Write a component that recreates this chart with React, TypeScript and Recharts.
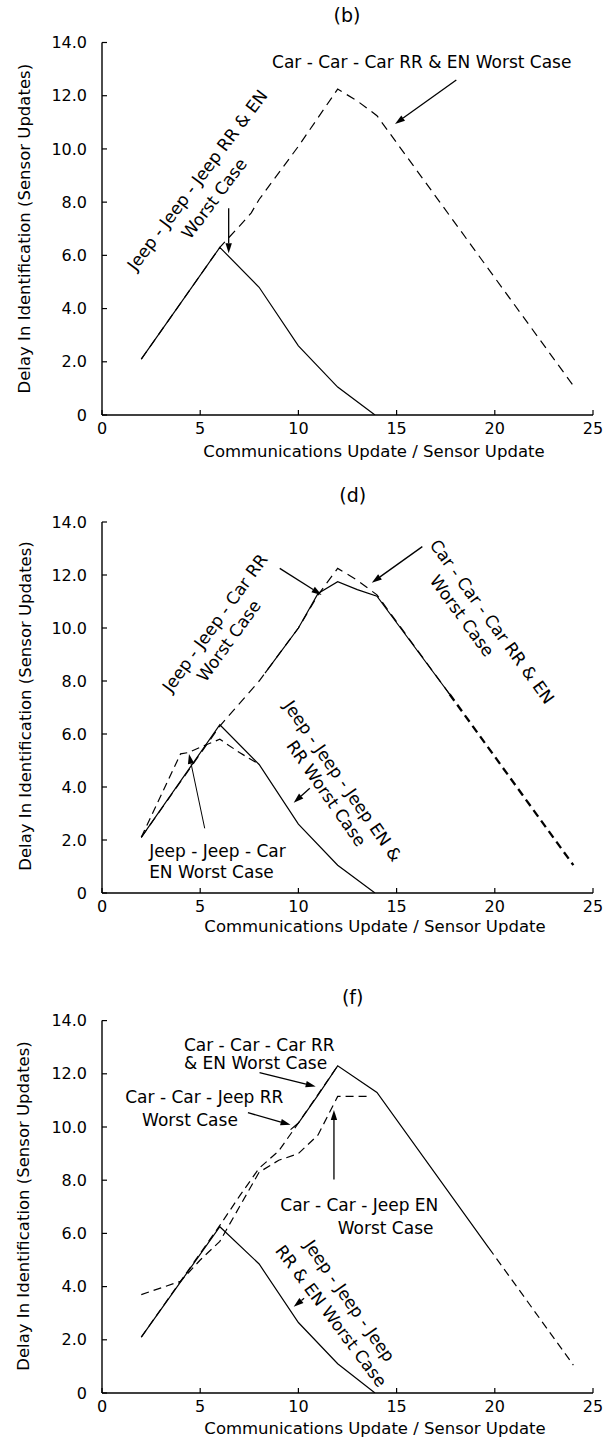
import React from 'react';
import { LineChart, Line, XAxis, YAxis, ReferenceLine, ReferenceDot } from 'recharts';

// ---------- shared axes ----------
const xTicks = [0, 5, 10, 15, 20, 25];
const yTicks = [0, 2, 4, 6, 8, 10, 12, 14];
const xLabel = 'Communications Update / Sensor Update';
const yLabel = 'Delay In Identification (Sensor Updates)';

// ---------- panel (b) ----------
const bJeepJeepJeep = [[2, 2.1], [6, 6.3], [8, 4.8], [10, 2.6], [12, 1.05], [13.9, 0]];
const bCarCarCar = [[2, 2.1], [4, 4.2], [6, 6.3], [7, 7.1], [7.6, 7.6], [8, 8.1], [10, 10.1], [12, 12.25], [13, 11.8], [14, 11.25], [24, 1.1]];

// ---------- panel (d) ----------
const dJeepJeepJeep = [[2, 2.1], [6, 6.35], [8, 4.85], [10, 2.6], [12, 1.05], [13.9, 0]];
const dJeepJeepCarEN = [[2, 2.1], [4, 5.25], [4.4, 5.3], [5, 5.5], [6, 5.8], [7, 5.3], [7.9, 4.9]];
const dCarCarCar = [[2, 2.1], [4, 4.2], [6, 6.3], [8, 8.0], [10, 10.0], [11, 11.25], [12, 12.25], [13, 11.8], [14, 11.25], [17.7, 7.5]];
const dCarCarCarTail = [[17.7, 7.5], [24, 1.05]];
const dJeepJeepCarRR = [[8.3, 8.3], [10, 10.0], [11, 11.3], [12, 11.75], [13, 11.45], [14, 11.2], [17.7, 7.5]];

// ---------- panel (f) ----------
const fJeepJeepJeep = [[2, 2.1], [6, 6.25], [8, 4.85], [10, 2.65], [12, 1.1], [13.9, 0]];
const fCarCarCar = [[9.6, 9.9], [10, 10.15], [11, 11.2], [12, 12.3], [14, 11.3], [19.7, 5.45]];
const fCarCarCarTail = [[19.7, 5.45], [24, 1.05]];
const fCarCarJeepRR = [[2, 2.1], [4, 4.2], [6, 6.3], [7, 7.4], [8, 8.45], [9, 9.1], [10, 10.15], [12, 12.3]];
const fCarCarJeepEN = [[2, 3.7], [4, 4.2], [5, 5.0], [6, 5.7], [7, 7.0], [8, 8.3], [9, 8.75], [10, 9.0], [11, 9.7], [12, 11.15], [13.5, 11.15]];

const toPts = (arr: number[][]) => arr.map(([x, y]) => ({ x, y }));

const FONT = 'DejaVu Sans';

type Series = { data: number[][]; dash?: string; width?: number };
type Ann = { text: string; x: number; y: number; rot?: number; anchor?: 'start' | 'middle' | 'end' };
type Arrow = { from: [number, number]; to: [number, number]; w?: number };

const textShape = (t: Ann) => (p: any) => {
  const cx = p.cx, cy = p.cy;
  if (typeof cx !== 'number' || typeof cy !== 'number') return <g />;
  return (
    <text
      x={cx}
      y={cy}
      textAnchor={t.anchor || 'middle'}
      dominantBaseline="central"
      transform={t.rot ? `rotate(${t.rot} ${cx} ${cy})` : undefined}
      fontSize={17}
      fontFamily={FONT}
      fill="#000"
    >
      {t.text}
    </text>
  );
};

const arrowShape = (w: number) => (p: any) => {
  const { x1, y1, x2, y2 } = p;
  if ([x1, y1, x2, y2].some((v) => typeof v !== 'number' || isNaN(v))) return <g />;
  const ang = Math.atan2(y2 - y1, x2 - x1);
  const L = 10, W = 3.2;
  const bx = x2 - L * Math.cos(ang), by = y2 - L * Math.sin(ang);
  const px = -Math.sin(ang) * W, py = Math.cos(ang) * W;
  return (
    <g>
      <line x1={x1} y1={y1} x2={bx} y2={by} stroke="#000" strokeWidth={w} />
      <polygon points={`${x2},${y2} ${bx + px},${by + py} ${bx - px},${by - py}`} fill="#000" />
    </g>
  );
};

// ---------- annotations (data coordinates) ----------
const bAnn: Ann[] = [
  { text: 'Car - Car - Car RR & EN Worst Case', x: 16.28, y: 13.28 },
  { text: 'Jeep - Jeep - Jeep RR & EN', x: 4.85, y: 8.83, rot: -53 },
  { text: 'Worst Case', x: 5.71, y: 8.14, rot: -53 },
];
const bArrows: Arrow[] = [
  { from: [18.04, 12.59], to: [14.92, 10.94] },
  { from: [6.45, 7.77], to: [6.45, 6.08] },
];
const dAnn: Ann[] = [
  { text: 'Jeep - Jeep - Car RR', x: 5.75, y: 10.19, rot: -54 },
  { text: 'Worst Case', x: 6.45, y: 9.52, rot: -54 },
  { text: 'Car - Car - Car RR & EN', x: 19.86, y: 10.24, rot: 54 },
  { text: 'Worst Case', x: 18.33, y: 10.46, rot: 54 },
  { text: 'Jeep - Jeep - Jeep EN &', x: 12.26, y: 4.23, rot: 55 },
  { text: 'RR Worst Case', x: 11.43, y: 3.76, rot: 55 },
  { text: 'Jeep - Jeep - Car', x: 2.4, y: 1.6, anchor: 'start' },
  { text: 'EN Worst Case', x: 2.4, y: 0.8, anchor: 'start' },
];
const dArrows: Arrow[] = [
  { from: [9.05, 12.25], to: [11.18, 11.25] },
  { from: [16.31, 13.07], to: [13.74, 11.71] },
  { from: [10.58, 3.95], to: [9.76, 3.41] },
  { from: [5.23, 2.44], to: [4.43, 5.25], w: 1 },
];
const fAnn: Ann[] = [
  { text: 'Car - Car - Car RR', x: 4.17, y: 13.08, anchor: 'start' },
  { text: '& EN Worst Case', x: 4.17, y: 12.39, anchor: 'start' },
  { text: 'Car - Car - Jeep RR', x: 5.21, y: 11.14 },
  { text: 'Worst Case', x: 4.48, y: 10.26 },
  { text: 'Car - Car - Jeep EN', x: 13.1, y: 7.07 },
  { text: 'Worst Case', x: 14.44, y: 6.19 },
  { text: 'Jeep - Jeep - Jeep', x: 12.61, y: 3.47, rot: 55 },
  { text: 'RR & EN Worst Case', x: 11.67, y: 2.9, rot: 53 },
];
const fArrows: Arrow[] = [
  { from: [8.02, 12.04], to: [10.88, 11.52] },
  { from: [7.43, 10.54], to: [9.6, 10.08] },
  { from: [11.81, 8.03], to: [11.81, 10.64] },
  { from: [10.29, 3.56], to: [9.76, 3.24] },
];

type PanelCfg = {
  top: number; h: number; mt: number; mb: number;
  series: Series[]; ann: Ann[]; arrows: Arrow[];
};

const panels: PanelCfg[] = [
  {
    top: 0, h: 480, mt: 42.5, mb: 35,
    series: [
      { data: bJeepJeepJeep },
      { data: bCarCarCar, dash: '9 6' },
    ],
    ann: bAnn, arrows: bArrows,
  },
  {
    top: 480, h: 480, mt: 42, mb: 37,
    series: [
      { data: dJeepJeepJeep },
      { data: dJeepJeepCarEN, dash: '8 5' },
      { data: dCarCarCar, dash: '9 6' },
      { data: dCarCarCarTail, dash: '8 5', width: 2.3 },
      { data: dJeepJeepCarRR },
    ],
    ann: dAnn, arrows: dArrows,
  },
  {
    top: 960, h: 479, mt: 60.6, mb: 16,
    series: [
      { data: fJeepJeepJeep },
      { data: fCarCarCar },
      { data: fCarCarCarTail, dash: '8 5' },
      { data: fCarCarJeepRR, dash: '8 5' },
      { data: fCarCarJeepEN, dash: '8 5' },
    ],
    ann: fAnn, arrows: fArrows,
  },
];

const tickStyle = { fontSize: 16, fill: '#000', fontFamily: FONT };

function Panel({ cfg }: { cfg: PanelCfg }) {
  return (
    <div style={{ position: 'absolute', left: 0, top: cfg.top, width: 609, height: cfg.h }}>
      <LineChart width={609} height={cfg.h} margin={{ top: cfg.mt, right: 16, bottom: cfg.mb, left: 0 }}>
        <XAxis
          type="number"
          dataKey="x"
          domain={[0, 25]}
          ticks={xTicks}
          allowDataOverflow
          height={30}
          tickSize={-5}
          tickMargin={13}
          tick={tickStyle}
          axisLine={{ stroke: '#000', strokeWidth: 1.4 }}
          tickLine={{ stroke: '#000', strokeWidth: 1.2 }}
        />
        <XAxis
          xAxisId="top"
          orientation="top"
          type="number"
          domain={[0, 25]}
          ticks={xTicks}
          height={0}
          tick={false}
          tickLine={false}
          axisLine={{ stroke: '#000', strokeWidth: 1.4 }}
        />
        <YAxis
          type="number"
          domain={[0, 14]}
          ticks={yTicks}
          allowDataOverflow
          width={102}
          tickSize={-5}
          tickMargin={20}
          tick={tickStyle}
          tickFormatter={(v: number) => (v === 0 ? '0' : v.toFixed(1))}
          axisLine={{ stroke: '#000', strokeWidth: 1.4 }}
          tickLine={{ stroke: '#000', strokeWidth: 1.2 }}
        />
        <YAxis
          yAxisId="right"
          orientation="right"
          type="number"
          domain={[0, 14]}
          ticks={yTicks}
          width={0}
          tickSize={-5}
          tick={false}
          tickLine={{ stroke: '#000', strokeWidth: 1.2 }}
          axisLine={{ stroke: '#000', strokeWidth: 1.4 }}
        />
        {cfg.series.map((s, i) => (
          <Line
            key={'s' + i}
            data={toPts(s.data)}
            dataKey="y"
            type="linear"
            stroke="#000"
            strokeWidth={s.width || 1.2}
            strokeDasharray={s.dash}
            dot={false}
            activeDot={false}
            isAnimationActive={false}
          />
        ))}
        {cfg.arrows.map((a, i) => (
          <ReferenceLine
            key={'a' + i}
            segment={[{ x: a.from[0], y: a.from[1] }, { x: a.to[0], y: a.to[1] }]}
            ifOverflow="visible"
            shape={arrowShape(a.w || 1.3)}
          />
        ))}
        {cfg.ann.map((t, i) => (
          <ReferenceDot
            key={'t' + i}
            x={t.x}
            y={t.y}
            r={0}
            ifOverflow="visible"
            shape={textShape(t)}
          />
        ))}
      </LineChart>
    </div>
  );
}

const titles = [
  { text: '(b)', x: 347, y: 15 },
  { text: '(d)', x: 352.7, y: 495 },
  { text: '(f)', x: 352.7, y: 997 },
];
const xLabels = [
  { x: 374, y: 451.7 },
  { x: 375, y: 926.7 },
  { x: 375, y: 1428 },
];
const yLabels = [
  { x: 25, y: 228.7 },
  { x: 25, y: 706 },
  { x: 23, y: 1206 },
];

export default function App() {
  return (
    <div style={{ position: 'absolute', left: 0, top: 0, width: 609, height: 1439, background: '#fff', overflow: 'hidden' }}>
      {panels.map((p, i) => (
        <Panel key={i} cfg={p} />
      ))}
      <svg width={609} height={1439} style={{ position: 'absolute', left: 0, top: 0, pointerEvents: 'none' }}>
        {titles.map((t, i) => (
          <text key={'ti' + i} x={t.x} y={t.y} textAnchor="middle" dominantBaseline="central" fontSize={19} fontFamily={FONT} fill="#000">
            {t.text}
          </text>
        ))}
        {xLabels.map((t, i) => (
          <text key={'xl' + i} x={t.x} y={t.y} textAnchor="middle" dominantBaseline="central" fontSize={16.5} fontFamily={FONT} fill="#000">
            {xLabel}
          </text>
        ))}
        {yLabels.map((t, i) => (
          <text key={'yl' + i} x={t.x} y={t.y} textAnchor="middle" dominantBaseline="central" fontSize={16.5} fontFamily={FONT} fill="#000" transform={`rotate(-90 ${t.x} ${t.y})`}>
            {yLabel}
          </text>
        ))}
      </svg>
    </div>
  );
}
